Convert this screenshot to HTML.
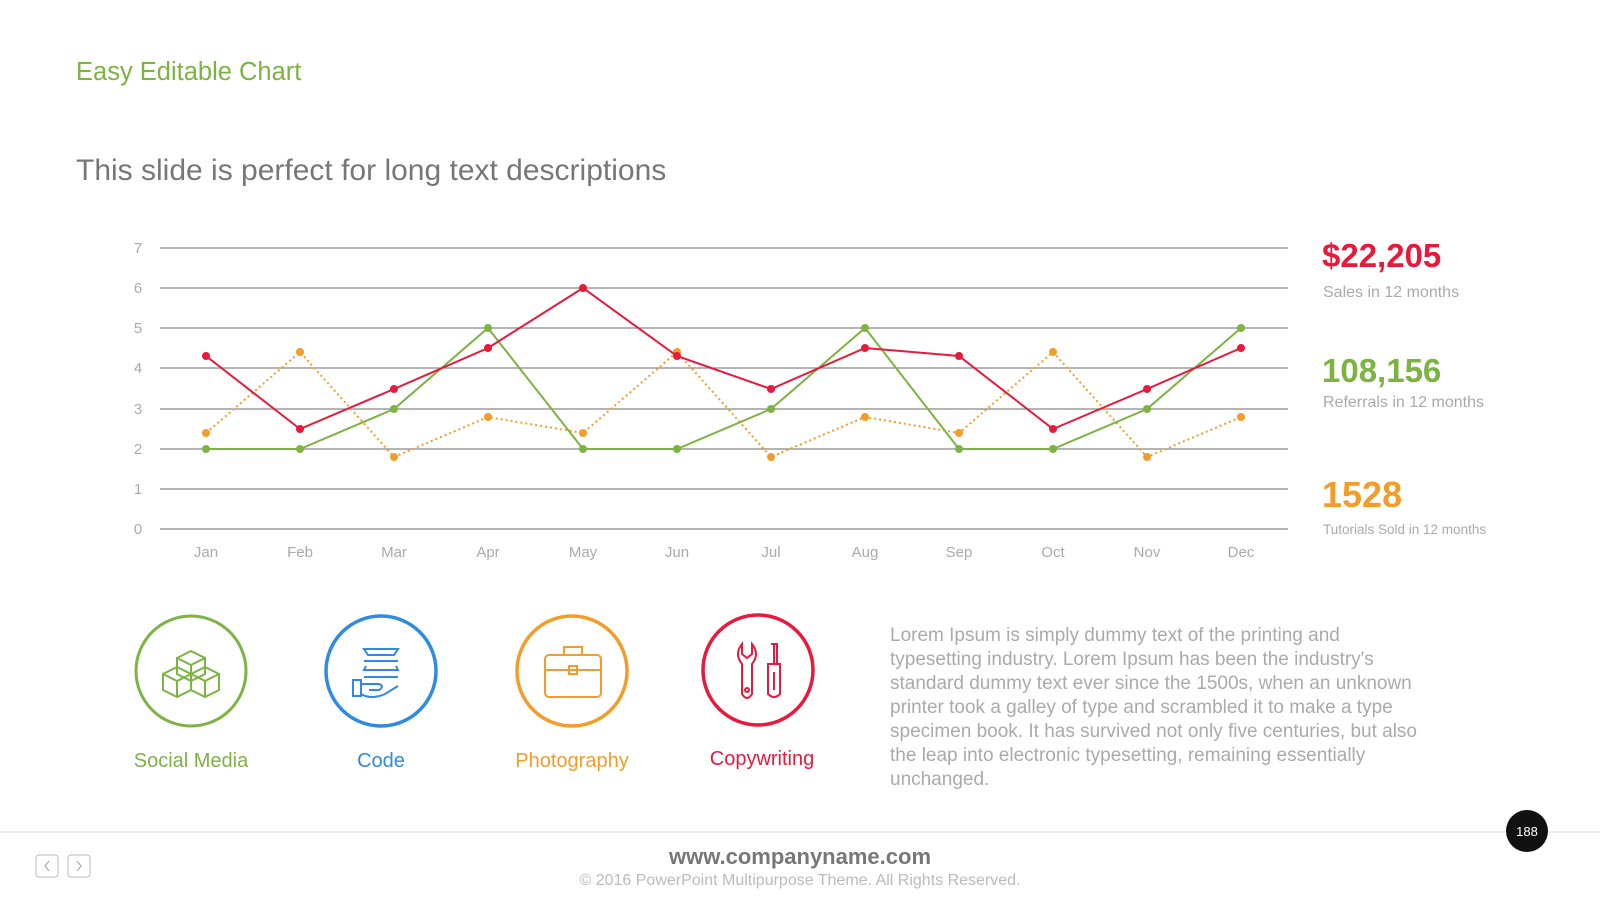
<!DOCTYPE html>
<html><head><meta charset="utf-8"><style>
html,body{margin:0;padding:0;background:#fff;}
svg{display:block;font-family:"Liberation Sans",sans-serif;}
</style></head><body>
<svg width="1600" height="900" viewBox="0 0 1600 900" xmlns="http://www.w3.org/2000/svg">
<text x="76" y="80" font-size="25.5" fill="#7cb342">Easy Editable Chart</text>
<text x="76" y="180" font-size="30" fill="#777">This slide is perfect for long text descriptions</text>
<g stroke="#888" stroke-width="1.3">
<line x1="160" y1="248" x2="1288" y2="248"/><line x1="160" y1="288" x2="1288" y2="288"/>
<line x1="160" y1="328" x2="1288" y2="328"/><line x1="160" y1="368" x2="1288" y2="368"/>
<line x1="160" y1="409" x2="1288" y2="409"/><line x1="160" y1="449" x2="1288" y2="449"/>
<line x1="160" y1="489" x2="1288" y2="489"/><line x1="160" y1="529" x2="1288" y2="529"/>
</g>
<g font-size="15" fill="#aaa" text-anchor="middle">
<text x="138" y="253">7</text><text x="138" y="293">6</text><text x="138" y="333">5</text><text x="138" y="373">4</text>
<text x="138" y="414">3</text><text x="138" y="454">2</text><text x="138" y="494">1</text><text x="138" y="534">0</text>
<text x="206" y="557">Jan</text><text x="300" y="557">Feb</text><text x="394" y="557">Mar</text><text x="488" y="557">Apr</text>
<text x="583" y="557">May</text><text x="677" y="557">Jun</text><text x="771" y="557">Jul</text><text x="865" y="557">Aug</text>
<text x="959" y="557">Sep</text><text x="1053" y="557">Oct</text><text x="1147" y="557">Nov</text><text x="1241" y="557">Dec</text>
</g>
<polyline fill="none" stroke="#f39c2a" stroke-width="2" stroke-dasharray="2,3" points="206,433 300,352 394,457 488,417 583,433 677,352 771,457 865,417 959,433 1053,352 1147,457 1241,417"/>
<g fill="#f39c2a"><circle cx="206" cy="433" r="4"/><circle cx="300" cy="352" r="4"/><circle cx="394" cy="457" r="4"/><circle cx="488" cy="417" r="4"/><circle cx="583" cy="433" r="4"/><circle cx="677" cy="352" r="4"/><circle cx="771" cy="457" r="4"/><circle cx="865" cy="417" r="4"/><circle cx="959" cy="433" r="4"/><circle cx="1053" cy="352" r="4"/><circle cx="1147" cy="457" r="4"/><circle cx="1241" cy="417" r="4"/></g>
<polyline fill="none" stroke="#7cb342" stroke-width="2" points="206,449 300,449 394,409 488,328 583,449 677,449 771,409 865,328 959,449 1053,449 1147,409 1241,328"/>
<g fill="#7cb342"><circle cx="206" cy="449" r="4"/><circle cx="300" cy="449" r="4"/><circle cx="394" cy="409" r="4"/><circle cx="488" cy="328" r="4"/><circle cx="583" cy="449" r="4"/><circle cx="677" cy="449" r="4"/><circle cx="771" cy="409" r="4"/><circle cx="865" cy="328" r="4"/><circle cx="959" cy="449" r="4"/><circle cx="1053" cy="449" r="4"/><circle cx="1147" cy="409" r="4"/><circle cx="1241" cy="328" r="4"/></g>
<polyline fill="none" stroke="#e8193c" stroke-width="2" points="206,356 300,429 394,389 488,348 583,288 677,356 771,389 865,348 959,356 1053,429 1147,389 1241,348"/>
<g fill="#e8193c"><circle cx="206" cy="356" r="4"/><circle cx="300" cy="429" r="4"/><circle cx="394" cy="389" r="4"/><circle cx="488" cy="348" r="4"/><circle cx="583" cy="288" r="4"/><circle cx="677" cy="356" r="4"/><circle cx="771" cy="389" r="4"/><circle cx="865" cy="348" r="4"/><circle cx="959" cy="356" r="4"/><circle cx="1053" cy="429" r="4"/><circle cx="1147" cy="389" r="4"/><circle cx="1241" cy="348" r="4"/></g>
<text x="1322" y="267" font-size="33" font-weight="bold" fill="#e8193c">$22,205</text>
<text x="1323" y="297" font-size="16" fill="#aaa">Sales in 12 months</text>
<text x="1322" y="382" font-size="33" font-weight="bold" fill="#7cb342">108,156</text>
<text x="1323" y="407" font-size="16" fill="#aaa">Referrals in 12 months</text>
<text x="1322" y="507" font-size="36" font-weight="bold" fill="#f39c2a">1528</text>
<text x="1323" y="534" font-size="13.5" fill="#aaa">Tutorials Sold  in 12 months</text>
<circle cx="191" cy="671" r="55" fill="none" stroke="#7cb342" stroke-width="3"/>
<g fill="none" stroke="#7cb342" stroke-width="2">
<path d="M177,658 l14,-7 l14,7 v16 l-14,7 l-14,-7z M177,658 l14,7 l14,-7 M191,665 v16"/>
<path d="M163,674 l14,-7 l14,7 v16 l-14,7 l-14,-7z M163,674 l14,7 l14,-7 M177,681 v16"/>
<path d="M191,674 l14,-7 l14,7 v16 l-14,7 l-14,-7z M191,674 l14,7 l14,-7 M205,681 v16"/>
</g>
<text x="191" y="767" font-size="20" fill="#7cb342" text-anchor="middle">Social Media</text>
<circle cx="381" cy="671" r="55" fill="none" stroke="#2f8be0" stroke-width="3.5"/>
<g fill="none" stroke="#2f8be0" stroke-width="2">
<path d="M364,649 h34 l-4,6 h-26z M364,661 h34 M366,666 l-2,4 h34 l-2,-4 M366,677 l-2,0 h34"/>
<path d="M353,680 h8 v16 h-8z M361,684 h18 q6,2 0,6 h-10 M361,694 q10,6 24,0 l13,-8"/>
</g>
<text x="381" y="767" font-size="20" fill="#2f8be0" text-anchor="middle">Code</text>
<circle cx="572" cy="671" r="55" fill="none" stroke="#f39c2a" stroke-width="3.5"/>
<g fill="none" stroke="#f39c2a" stroke-width="2">
<rect x="545" y="655" width="56" height="42" rx="4"/><path d="M564,655 v-8 h18 v8 M545,670 h56"/><rect x="569" y="666" width="8" height="8"/>
</g>
<text x="572" y="767" font-size="20" fill="#f39c2a" text-anchor="middle">Photography</text>
<circle cx="758" cy="670" r="55" fill="none" stroke="#e8193c" stroke-width="3.5"/>
<g fill="none" stroke="#e8193c" stroke-width="2">
<path d="M742,644 q-8,10 0,20 v30 q5,8 10,0 v-30 q8,-10 0,-20 v10 l-5,4 l-5,-4z"/>
<circle cx="747" cy="690" r="2"/>
<path d="M774,644 v20 M771,644 h6 v20 M768,664 h12 v30 q-6,6 -12,0z M774,672 v18"/>
</g>
<text x="762" y="765" font-size="20" fill="#e8193c" text-anchor="middle">Copywriting</text>
<g font-size="19" fill="#aaa">
<text x="890" y="641">Lorem Ipsum is simply dummy text of the printing and</text>
<text x="890" y="665">typesetting industry. Lorem Ipsum has been the industry's</text>
<text x="890" y="689">standard dummy text ever since the 1500s, when an unknown</text>
<text x="890" y="713">printer took a galley of type and scrambled it to make a type</text>
<text x="890" y="737">specimen book. It has survived not only five centuries, but also</text>
<text x="890" y="761">the leap into electronic typesetting, remaining essentially</text>
<text x="890" y="785">unchanged.</text>
</g>
<line x1="0" y1="832" x2="1600" y2="832" stroke="#eee" stroke-width="2"/>
<circle cx="1527" cy="831" r="21" fill="#111"/>
<text x="1527" y="836" font-size="13" fill="#fff" text-anchor="middle">188</text>
<text x="800" y="864" font-size="22" font-weight="bold" fill="#777" text-anchor="middle">www.companyname.com</text>
<text x="800" y="885" font-size="16" fill="#bbb" text-anchor="middle">© 2016 PowerPoint Multipurpose Theme. All Rights Reserved.</text>
<rect x="36" y="855" width="22" height="22" rx="3" fill="none" stroke="#bbb"/>
<rect x="68" y="855" width="22" height="22" rx="3" fill="none" stroke="#bbb"/>
<path d="M49,861 l-4,5 l4,5 M77,861 l4,5 l-4,5" fill="none" stroke="#999"/>
</svg>
</body></html>
